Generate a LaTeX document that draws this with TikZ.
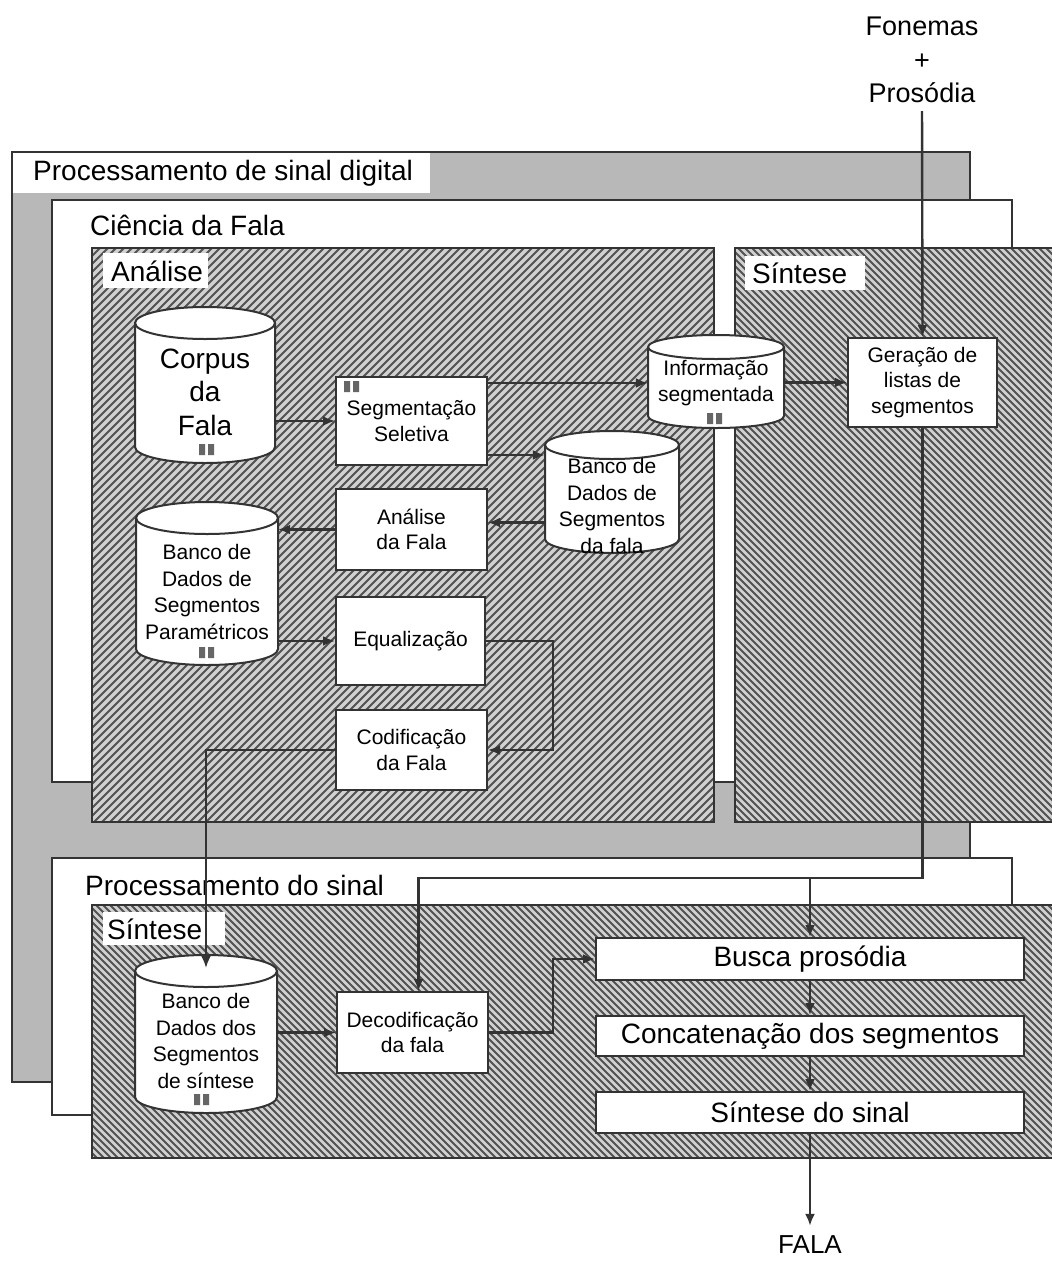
\documentclass[tikz,border=0pt]{standalone}
\usepackage{fontspec}
\setmainfont{Liberation Sans}
\usetikzlibrary{arrows.meta,calc}
\newcommand\fsz[2]{\fontsize{#1pt}{#2pt}\selectfont}
\newcommand\cylshape[5]{%
 \pgfmathsetmacro\crx{(#3-#1)/2}%
 \pgfmathsetmacro\cyt{#2+#5}%
 \pgfmathsetmacro\cyb{#4-#5}%
 \draw[cylline] (#1,\cyt) -- (#1,\cyb) arc[start angle=180,end angle=360,x radius=\crx pt,y radius=#5pt] -- (#3,\cyt) arc[start angle=0,end angle=180,x radius=\crx pt,y radius=#5pt] -- cycle;
 \draw[cylline,fill=none] (#1,\cyt) arc[start angle=180,end angle=360,x radius=\crx pt,y radius=#5pt];
}
\newcommand\mks[2]{\fill[mk] (#1,#2) rectangle ++(6,11) (#1+9,#2) rectangle ++(6,11);}
\begin{document}
\begin{tikzpicture}[x=1pt,y=-1pt,
  frame/.style={draw=black!80,line width=2.2pt},
  hatch/.style={draw=black!68,line width=1.8pt},
  box/.style={draw=black!80,line width=2pt,fill=white,align=center,inner sep=0pt,font=\fsz{21}{25.5}},
  wide/.style={box,font=\fsz{28}{32},minimum width=428pt},
  cylline/.style={draw=black!80,line width=2pt,fill=white},
  cyltxt/.style={align=center,inner sep=0pt,font=\fsz{21}{26.5}},
  lbl/.style={font=\fsz{28}{32},inner sep=0pt,anchor=west},
  conn/.style={draw=black!80,line width=2.4pt,-{Latex[length=12pt,width=10pt]}},
  mk/.style={fill=black!60}
]
\useasboundingbox (0,0) rectangle (1052,1267);
\clip (0,0) rectangle (1052,1267);
\fill[white] (0,0) rectangle (1052,1267);

% outer digital processing box
\fill[black!28] (12,152) rectangle (970,1082);
\fill[white] (13,153) rectangle (430,193);
\draw[frame] (12,152) rectangle (970,1082);

% Ciencia da Fala
\draw[frame,fill=white] (52,200) rectangle (1012,782);

% Analise hatched box
\fill[black!18] (92,248) rectangle (714,822);
\begin{scope}
\clip (92,248) rectangle (714,822);
\draw[hatch] \foreach \k in {-490,-482,...,720} {(\k,822) -- ++(600,-600)};
\end{scope}
\draw[frame] (92,248) rectangle (714,822);

% Sintese (top) hatched box
\fill[black!18] (735,248) rectangle (1060,822);
\begin{scope}
\clip (735,248) rectangle (1060,822);
\draw[hatch] \foreach \k in {150,157,...,1065} {(\k,248) -- ++(600,600)};
\end{scope}
\draw[frame] (735,248) rectangle (1060,822);

% Processamento do sinal
\draw[frame,fill=white] (52,858) rectangle (1012,1115);

% Sintese (bottom) hatched box
\fill[black!18] (92,905) rectangle (1060,1158);
\begin{scope}
\clip (92,905) rectangle (1060,1158);
\draw[hatch] \foreach \k in {-170,-163,...,1065} {(\k,905) -- ++(260,260)};
\end{scope}
\draw[frame] (92,905) rectangle (1060,1158);

% region labels
\node[lbl] (tpsd) at (33,173) {Processamento de sinal digital};
\node[lbl] (tcf) at (90,225) {Ciência da Fala};
\fill[white] (103,253) rectangle (208,288);
\node[lbl] (tan) at (111,271) {Análise};
\fill[white] (745,256) rectangle (865,290);
\node[lbl] (tsa) at (752,273) {Síntese};
\node[lbl] (tps) at (85,885) {Processamento do sinal};
\fill[white] (103,912) rectangle (225,945);
\node[lbl] (tsb) at (107,929) {Síntese};

% cylinders
\cylshape{135}{307}{275}{463}{16}
\node[cyltxt,font=\fsz{28}{33.5},minimum width=140pt,minimum height=100pt] (corpus) at (205,392) {Corpus\\da\\Fala};
\cylshape{648}{335}{784}{428}{12}
\node[cyltxt,minimum width=136pt,minimum height=60pt] (info) at (716,383) {Informação\\segmentada};
\cylshape{545}{431}{679}{553}{14}
\node[cyltxt,minimum width=134pt] (bfala) at (612,506) {Banco de\\Dados de\\Segmentos\\da fala};
\cylshape{136}{502}{278}{665}{16}
\node[cyltxt,minimum width=142pt] (param) at (207,592) {Banco de\\Dados de\\Segmentos\\Paramétricos};
\cylshape{135}{955}{277}{1113}{16}
\node[cyltxt,minimum width=142pt] (bsin) at (206,1041) {Banco de\\Dados dos\\Segmentos\\de síntese};

% boxes
\node[box,minimum width=151pt,minimum height=88pt] (seg) at (411.5,421) {Segmentação\\Seletiva};
\node[box,minimum width=151pt,minimum height=81pt] (an) at (411.5,529.5) {Análise\\da Fala};
\node[box,minimum width=149pt,minimum height=88pt] (eq) at (410.5,641) {Equalização};
\node[box,minimum width=151pt,minimum height=80pt] (cod) at (411.5,750) {Codificação\\da Fala};
\node[box,minimum width=149pt,minimum height=89pt] (gera) at (922.5,382.5) {Geração de\\listas de\\segmentos};
\node[box,minimum width=151pt,minimum height=81pt] (dec) at (412.5,1032.5) {Decodificação\\da fala};
\node[wide,minimum height=42pt] (busca) at (810,959) {Busca prosódia};
\node[wide,minimum height=40pt] (conc) at (810,1036) {Concatenação dos segmentos};
\node[wide,minimum height=41pt] (sint) at (810,1112.5) {Síntese do sinal};

% marks
\mks{344}{381}
\mks{199}{444}
\mks{707}{413}
\mks{199}{647}
\mks{194}{1094}

% outside texts
\node[align=center,font=\fsz{27}{33.5},inner sep=0pt] (fon) at (922,60) {Fonemas\\+\\Prosódia};
\node[font=\fsz{26}{30},inner sep=0pt] (fala) at (810,1245) {FALA};

% connectors
\draw[conn] (corpus.east |- seg) -- (seg.west);
\draw[conn] (seg.east |- info) -- (info.west);
\coordinate (s3) at ([yshift=-34pt]seg.east);
\draw[conn] (s3) -- (s3 -| bfala.west);
\coordinate (a1) at ([yshift=7pt]an.east);
\draw[conn] (a1 -| bfala.west) -- (a1);
\draw[conn] (an.west) -- (an.west -| param.east);
\draw[conn] (param.east |- eq) -- (eq.west);
\draw[conn] (eq.east) -- ++(67,0) |- (cod.east);
\coordinate (bt) at (206,968);
\draw[conn] (cod.west) -| (bt);
\draw[conn] (info.east |- gera) -- (gera.west);
\draw[conn,shorten <=8pt] (fon.south) -- (gera.north);
\coordinate (j1) at (gera.south |- 0,878);
\coordinate (dt) at ([xshift=6pt]dec.north);
\draw[conn] (gera.south) -- (j1) -| (dt);
\coordinate (j2) at (busca.north |- j1);
\draw[conn] (j2) -- (busca.north);
\draw[conn] (dec.east) -- ++(64,0) |- (busca.west);
\draw[conn] (bsin.east |- dec) -- (dec.west);
\draw[conn] (busca.south) -- (conc.north);
\draw[conn] (conc.south) -- (sint.north);
\draw[conn,shorten >=10pt] (sint.south) -- (fala.north);
\end{tikzpicture}
\end{document}
